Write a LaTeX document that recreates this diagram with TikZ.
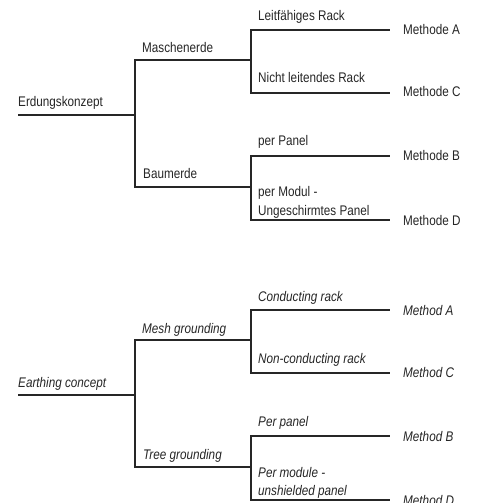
\documentclass[tikz,border=0pt]{standalone}
\usepackage{fontspec}
\setmainfont{Liberation Sans}[FakeStretch=0.84]
\usepackage{tikz}
\usetikzlibrary{positioning}

\begin{document}
\begin{tikzpicture}[x=1bp, y=-1bp,
    branch/.style={draw=black!85, line width=1.1bp},
    lbl/.style={anchor=base west, inner sep=0pt, text=black!85, font=\fontsize{14}{16}\selectfont},
    lblen/.style={lbl, font=\fontsize{14}{16}\selectfont\itshape}
  ]
    \useasboundingbox[fill=white] (0,0) rectangle (478,503);
    \clip (0,0) rectangle (478,503);

    % German tree
    \coordinate (de0) at (18,115);
    \coordinate (de1) at (135,115);
    \coordinate (dem) at (251,60);
    \coordinate (det) at (251,187);
    \coordinate (deA) at (390,30);
    \coordinate (deC) at (390,93);
    \coordinate (deB) at (390,156);
    \coordinate (deD) at (390,220);

    \draw[branch] (de0) -- (de1) |- (dem);
    \draw[branch] (de1) |- (det);
    \draw[branch] (dem) |- (deA);
    \draw[branch] (dem) |- (deC);
    \draw[branch] (det) |- (deB);
    \draw[branch] (det) |- (deD);

    \node[lbl] (deroot) at (18,107) {Erdungskonzept};
    \node[lbl] (demesh) at (142,53) {Maschenerde};
    \node[lbl] (detree) at (143,179) {Baumerde};
    \node[lbl] (derack) at (258,21) {Leitfähiges Rack};
    \node[lbl] (denorack) at (258,83) {Nicht leitendes Rack};
    \node[lbl] (depanel) at (258,146) {per Panel};
    \node[lbl] (demodul) at (258,197) {per Modul -};
    \node[lbl] (deunsh) at (258,215) {Ungeschirmtes Panel};
    \node[lbl] (demA) at (403,35) {Methode A};
    \node[lbl] (demC) at (403,97) {Methode C};
    \node[lbl] (demB) at (403,161) {Methode B};
    \node[lbl] (demD) at (403,225) {Methode D};

    % English tree
    \coordinate (en0) at (18,395);
    \coordinate (en1) at (135,395);
    \coordinate (enm) at (251,340);
    \coordinate (ent) at (251,467);
    \coordinate (enA) at (390,310);
    \coordinate (enC) at (390,373);
    \coordinate (enB) at (390,436);
    \coordinate (enD) at (390,500);

    \draw[branch] (en0) -- (en1) |- (enm);
    \draw[branch] (en1) |- (ent);
    \draw[branch] (enm) |- (enA);
    \draw[branch] (enm) |- (enC);
    \draw[branch] (ent) |- (enB);
    \draw[branch] (ent) |- (enD);

    \node[lblen] (enroot) at (18,387) {Earthing concept};
    \node[lblen] (enmesh) at (142,333) {Mesh grounding};
    \node[lblen] (entree) at (143,459) {Tree grounding};
    \node[lblen] (enrack) at (258,301) {Conducting rack};
    \node[lblen] (ennorack) at (258,363) {Non-conducting rack};
    \node[lblen] (enpanel) at (258,426) {Per panel};
    \node[lblen] (enmodul) at (258,477) {Per module -};
    \node[lblen] (enunsh) at (258,495) {unshielded panel};
    \node[lblen] (enmA) at (403,315) {Method A};
    \node[lblen] (enmC) at (403,377) {Method C};
    \node[lblen] (enmB) at (403,441) {Method B};
    \node[lblen] (enmD) at (403,505) {Method D};
\end{tikzpicture}
\end{document}
